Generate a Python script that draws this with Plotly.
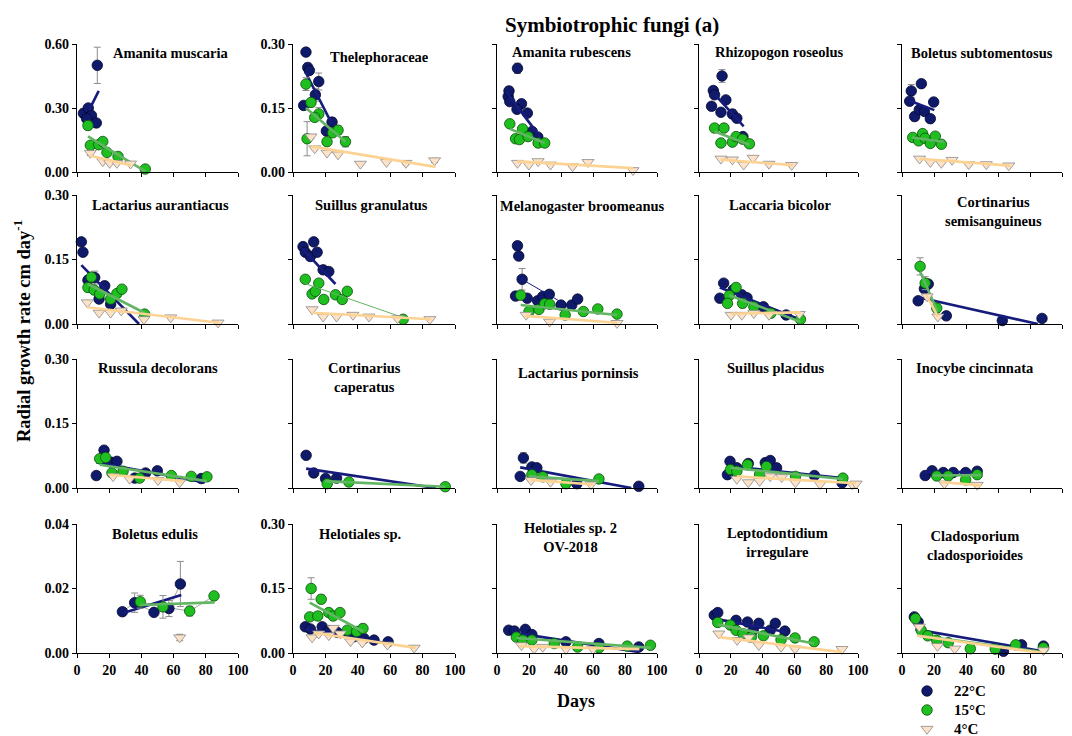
import plotly.graph_objects as go

# ------------------------------------------------------------------ data
TITLES = ["Amanita muscaria", "Thelephoraceae", "Amanita rubescens", "Rhizopogon roseolus",
          "Boletus subtomentosus", "Lactarius aurantiacus", "Suillus granulatus",
          "Melanogaster broomeanus", "Laccaria bicolor", "Cortinarius<br>semisanguineus",
          "Russula decolorans", "Cortinarius<br>caperatus", "Lactarius porninsis",
          "Suillus placidus", "Inocybe cincinnata", "Boletus edulis", "Helotiales sp.",
          "Helotiales sp. 2<br>OV-2018", "Leptodontidium<br>irregulare",
          "Cladosporium<br>cladosporioides"]
Y_MAX = [0.6, 0.3, 0.3, 0.3, 0.3,
         0.3, 0.3, 0.3, 0.3, 0.3,
         0.3, 0.3, 0.3, 0.3, 0.3,
         0.04, 0.3, 0.3, 0.3, 0.3]
X_TICKS = [0, 20, 40, 60, 80, 100]
X_TICKTEXT = ["0", "20", "40", "60", "80", "100"]
YT_P01 = ["0.00", "0.30", "0.60"]
YT_STD = ["0.00", "0.15", "0.30"]
YT_P16 = ["0.00", "0.02", "0.04"]
LEGEND_LABELS = ["22°C", "15°C", "4°C"]

# 01 Amanita muscaria
p01_d22 = [4, 7, 9, 6, 12, 12.6]; p01_r22 = [0.275, 0.30, 0.265, 0.25, 0.23, 0.50]
p01_e22 = [0.02, 0.015, 0, 0, 0, 0.085]; p01_fd22 = [7.5, 13.5]; p01_fr22 = [0.29, 0.38]
p01_d15 = [6.8, 8.3, 13.5, 16, 18.6, 25.5, 42.4]; p01_r15 = [0.218, 0.125, 0.128, 0.143, 0.092, 0.073, 0.014]
p01_e15 = [0.02, 0, 0, 0, 0, 0, 0]; p01_fd15 = [6.8, 42.4]; p01_fr15 = [0.167, 0.003]
p01_d4 = [8.3, 16, 20.3, 24.8, 33.3]; p01_r4 = [0.089, 0.05, 0.042, 0.042, 0.039]
p01_e4 = [0.012, 0, 0, 0, 0]; p01_fd4 = [8.3, 33.7]; p01_fr4 = [0.076, 0.031]

# 02 Thelephoraceae
p02_d22 = [8, 9.1, 10.1, 15.9, 13.8, 6.6, 24.1, 20.6]; p02_r22 = [0.281, 0.245, 0.238, 0.212, 0.181, 0.156, 0.117, 0.096]
p02_e22 = [0.008, 0.01, 0, 0.02, 0.015, 0, 0.01, 0]; p02_fd22 = [7.6, 24.1]; p02_fr22 = [0.235, 0.112]
p02_d15 = [8, 11.1, 15.9, 13.4, 8.7, 21, 24.5, 27.8, 32.4]; p02_r15 = [0.206, 0.163, 0.136, 0.128, 0.078, 0.071, 0.092, 0.098, 0.071]
p02_e15 = [0.015, 0, 0.015, 0, 0.04, 0, 0, 0.01, 0.012]; p02_fd15 = [8, 32.4]; p02_fr15 = [0.15, 0.071]
p02_d4 = [11.1, 13.4, 21, 27.8, 41.6, 57.7, 69.7, 87.4]; p02_r4 = [0.083, 0.055, 0.045, 0.041, 0.019, 0.023, 0.021, 0.027]
p02_e4 = [0.005, 0, 0, 0, 0, 0, 0.004, 0.005]; p02_fd4 = [11.1, 88]; p02_fr4 = [0.06, 0.012]

# 03 Amanita rubescens
p03_d22 = [7, 7.5, 8, 12.8, 15.3, 12.5, 19, 22, 25.5]; p03_r22 = [0.177, 0.19, 0.165, 0.243, 0.16, 0.147, 0.138, 0.095, 0.082]
p03_e22 = [0, 0.01, 0, 0.012, 0, 0, 0, 0, 0]; p03_fd22 = [6.3, 27.4]; p03_fr22 = [0.185, 0.08]
p03_d15 = [8, 11.6, 14, 16, 19.4, 25.7, 29.8]; p03_r15 = [0.113, 0.078, 0.076, 0.101, 0.083, 0.068, 0.068]
p03_e15 = None; p03_fd15 = [8, 29.8]; p03_fr15 = [0.101, 0.068]
p03_d4 = [12.8, 19.9, 25.7, 33.4, 47.2, 56.9, 85]; p03_r4 = [0.021, 0.017, 0.025, 0.017, 0.013, 0.023, 0.004]
p03_e4 = None; p03_fd4 = [12.8, 85]; p03_fr4 = [0.025, 0.009]

# 04 Rhizopogon roseolus
p04_d22 = [9, 9.8, 7.9, 14.5, 16.9, 13.8, 21, 23.8, 27.6]; p04_r22 = [0.191, 0.181, 0.154, 0.225, 0.169, 0.14, 0.136, 0.126, 0.083]
p04_e22 = [0.008, 0, 0, 0.015, 0, 0, 0.01, 0, 0]; p04_fd22 = [10.2, 28.1]; p04_fr22 = [0.181, 0.107]
p04_d15 = [9.8, 15.7, 13.8, 21, 23.3, 27.4, 31.7]; p04_r15 = [0.103, 0.103, 0.068, 0.07, 0.083, 0.077, 0.066]
p04_e15 = None; p04_fd15 = [9.8, 31.7]; p04_fr15 = [0.095, 0.064]
p04_d4 = [13.8, 21, 28.1, 34, 44, 58.3]; p04_r4 = [0.031, 0.029, 0.017, 0.033, 0.019, 0.016]
p04_e4 = None; p04_fd4 = [13.8, 59]; p04_fr4 = [0.029, 0.016]

# 05 Boletus subtomentosus
p05_d22 = [5.8, 12.1, 4.8, 19.8, 7.9, 10.8, 14, 17.7]; p05_r22 = [0.19, 0.207, 0.166, 0.164, 0.13, 0.146, 0.142, 0.125]
p05_e22 = [0.015, 0, 0, 0, 0.01, 0, 0, 0]; p05_fd22 = [4.8, 20.2]; p05_fr22 = [0.167, 0.145]
p05_d15 = [6.7, 10.4, 12.9, 14.4, 17.7, 20.8, 24.6]; p05_r15 = [0.081, 0.073, 0.09, 0.079, 0.067, 0.084, 0.065]
p05_e15 = None; p05_fd15 = [6.3, 26]; p05_fr15 = [0.081, 0.071]
p05_d4 = [11, 17.7, 24.6, 31.3, 41.7, 52.7, 66.7]; p05_r4 = [0.031, 0.023, 0.021, 0.028, 0.018, 0.018, 0.015]
p05_e4 = None; p05_fd4 = [11, 67.7]; p05_fr4 = [0.031, 0.015]

# 06 Lactarius aurantiacus
p06_d22 = [2.7, 3.7, 6.8, 11, 13.7, 17.2, 20.9]; p06_r22 = [0.191, 0.167, 0.102, 0.108, 0.058, 0.089, 0.046]
p06_e22 = [0, 0, 0.01, 0.015, 0, 0.01, 0]; p06_fd22 = [2.7, 38.5]; p06_fr22 = [0.137, 0.0]
p06_d15 = [6.8, 8.9, 10.6, 14.1, 20.9, 24.8, 27.9, 42]; p06_r15 = [0.085, 0.109, 0.079, 0.07, 0.058, 0.071, 0.081, 0.023]
p06_e15 = None; p06_fd15 = [6.8, 42.4]; p06_fr15 = [0.093, 0.025]
p06_d4 = [6.4, 13.7, 20.9, 27.5, 41.6, 58.2, 87.6]; p06_r4 = [0.05, 0.026, 0.026, 0.031, 0.011, 0.015, 0.003]
p06_e4 = None; p06_fd4 = [6.4, 88.2]; p06_fr4 = [0.039, 0.003]

# 07 Suillus granulatus
p07_d22 = [6.2, 7.6, 12.8, 10.7, 14.9, 18.6, 22.1]; p07_r22 = [0.18, 0.167, 0.191, 0.157, 0.167, 0.126, 0.122]
p07_e22 = None; p07_fd22 = [5.6, 26.2]; p07_fr22 = [0.176, 0.093]
p07_d15 = [7.6, 11.8, 13.8, 15.9, 19, 26.2, 30.4, 33.5, 68]; p07_r15 = [0.104, 0.07, 0.076, 0.095, 0.057, 0.068, 0.057, 0.076, 0.011]
p07_e15 = None; p07_fd15 = [7.6, 68]; p07_fr15 = [0.094, 0.015]
p07_d4 = [11.8, 18.6, 26.9, 37, 46.9, 64.5, 84.5]; p07_r4 = [0.034, 0.017, 0.017, 0.021, 0.017, 0.013, 0.011]
p07_e4 = None; p07_fd4 = [11.8, 85]; p07_fr4 = [0.026, 0.011]

# 08 Melanogaster broomeanus
p08_d22 = [12.8, 13.6, 15.7, 11.6, 18.9, 25.4, 28.6, 32.7, 40, 46.7, 50.4]
p08_r22 = [0.182, 0.158, 0.104, 0.065, 0.06, 0.054, 0.064, 0.069, 0.044, 0.044, 0.058]
p08_e22 = [0.01, 0, 0.025, 0, 0, 0, 0, 0, 0, 0, 0]; p08_fd22 = [12.8, 41.9]; p08_fr22 = [0.11, 0.047]
p08_d15 = [14.8, 20, 26.2, 29.8, 32.9, 42.6, 54, 63, 75]; p08_r15 = [0.067, 0.029, 0.034, 0.047, 0.046, 0.021, 0.029, 0.035, 0.023]
p08_e15 = None; p08_fd15 = [14.8, 75]; p08_fr15 = [0.044, 0.021]
p08_d4 = [18.2, 32.9, 75]; p08_r4 = [0.021, 0.005, 0.002]
p08_e4 = None; p08_fd4 = [17.7, 75]; p08_fr4 = [0.019, 0.003]

# 09 Laccaria bicolor
p09_d22 = [15.5, 13.1, 21.4, 26.9, 30.2, 40.5, 54.8]; p09_r22 = [0.095, 0.06, 0.079, 0.068, 0.061, 0.04, 0.021]
p09_e22 = None; p09_fd22 = [13.1, 61.9]; p09_fr22 = [0.085, 0.013]
p09_d15 = [23.3, 19, 17.9, 27.4, 34.5, 45.2, 63.8]; p09_r15 = [0.085, 0.066, 0.048, 0.048, 0.04, 0.025, 0.011]
p09_e15 = [0.008, 0, 0, 0.01, 0, 0, 0]; p09_fd15 = [19, 63.8]; p09_fr15 = [0.067, 0.005]
p09_d4 = [20.2, 26.9, 34.5, 44, 63.1]; p09_r4 = [0.021, 0.021, 0.025, 0.021, 0.023]
p09_e4 = None; p09_fd4 = [20.2, 63.8]; p09_fr4 = [0.024, 0.027]

# 10 Cortinarius semisanguineus
p10_d22 = [10.1, 14, 16.4, 27.7, 62.7, 87.5]; p10_r22 = [0.054, 0.082, 0.093, 0.019, 0.008, 0.013]
p10_e22 = None; p10_fd22 = [10.1, 85]; p10_fr22 = [0.062, 0.0]
p10_d15 = [11.3, 14.5, 21.7]; p10_r15 = [0.134, 0.095, 0.037]
p10_e15 = [0.02, 0.015, 0.01]; p10_fd15 = [11.3, 22.2]; p10_fr15 = [0.122, 0.029]
p10_d4 = [15.7, 22.4]; p10_r4 = [0.064, 0.017]
p10_e4 = None; p10_fd4 = [15.2, 22.4]; p10_fr4 = [0.068, 0.017]

# 11 Russula decolorans
p11_d22 = [12, 16.8, 21.3, 24.8, 35.8, 42.6, 49.9, 77.2]; p11_r22 = [0.029, 0.088, 0.06, 0.062, 0.023, 0.035, 0.04, 0.022]
p11_e22 = None; p11_fd22 = [12, 79.3]; p11_fr22 = [0.06, 0.013]
p11_d15 = [14.1, 17.8, 21.7, 28.6, 38.9, 58.6, 71, 80.7]; p11_r15 = [0.068, 0.071, 0.035, 0.039, 0.023, 0.029, 0.027, 0.026]
p11_e15 = None; p11_fd15 = [14.1, 80.7]; p11_fr15 = [0.054, 0.016]
p11_d4 = [22.4, 32.7, 50.3, 63.8]; p11_r4 = [0.027, 0.021, 0.018, 0.013]
p11_e4 = None; p11_fd4 = [20.3, 65.8]; p11_fr4 = [0.031, 0.016]

# 12 Cortinarius caperatus
p12_d22 = [8.1, 12.8, 20.1, 26.9]; p12_r22 = [0.076, 0.035, 0.022, 0.023]
p12_e22 = None; p12_fd22 = [8.1, 88.2]; p12_fr22 = [0.045, 0.0]
p12_d15 = [21.1, 34.5, 94]; p12_r15 = [0.01, 0.014, 0.003]
p12_e15 = None; p12_fd15 = [20, 94]; p12_fr15 = [0.016, 0.003]

# 13 Lactarius porninsis
p13_d22 = [16.5, 14.5, 21.8, 24.9, 49.9, 88.6]; p13_r22 = [0.07, 0.027, 0.049, 0.047, 0.01, 0.004]
p13_e22 = [0.012, 0, 0, 0, 0, 0]; p13_fd22 = [14.5, 84]; p13_fr22 = [0.048, 0.0]
p13_d15 = [21.8, 28.6, 43.1, 63.7]; p13_r15 = [0.031, 0.026, 0.01, 0.021]
p13_e15 = None; p13_fd15 = [20, 63.7]; p13_fr15 = [0.027, 0.016]
p13_d4 = [21.3, 33.4, 58.8]; p13_r4 = [0.018, 0.014, 0.008]
p13_e4 = None; p13_fd4 = [21.3, 60]; p13_fr4 = [0.019, 0.008]

# 14 Suillus placidus
p14_d22 = [19.5, 17.9, 23.8, 31, 41.7, 44.8, 48.8, 72.6, 90]; p14_r22 = [0.062, 0.031, 0.047, 0.057, 0.059, 0.064, 0.047, 0.029, 0.012]
p14_e22 = None; p14_fd22 = [19.5, 90]; p14_fr22 = [0.051, 0.023]
p14_d15 = [19.8, 23.8, 30.5, 38.1, 42.4, 60.7, 90.5]; p14_r15 = [0.043, 0.039, 0.054, 0.031, 0.05, 0.027, 0.023]
p14_e15 = None; p14_fd15 = [19.8, 90.5]; p14_fr15 = [0.047, 0.021]
p14_d4 = [23.8, 31, 38.1, 44.8, 52, 60.7, 76.2, 96.4, 98.8]; p14_r4 = [0.021, 0.013, 0.016, 0.027, 0.025, 0.013, 0.009, 0.008, 0.01]
p14_e4 = None; p14_fd4 = [23.8, 98.8]; p14_fr4 = [0.027, 0.011]

# 15 Inocybe cincinnata
p15_d22 = [14.5, 18.8, 25.8, 32, 39.8, 47]; p15_r22 = [0.029, 0.04, 0.036, 0.036, 0.036, 0.039]
p15_e22 = None; p15_fd22 = [14.5, 49.4]; p15_fr22 = [0.037, 0.037]
p15_d15 = [21.7, 28.9, 39.8, 47]; p15_r15 = [0.028, 0.028, 0.019, 0.031]
p15_e15 = None; p15_fd15 = [19.3, 49.4]; p15_fr15 = [0.029, 0.030]
p15_d4 = [26.5, 47]; p15_r4 = [0.01, 0.007]
p15_e4 = None; p15_fd4 = [24, 49.4]; p15_fr4 = [0.014, 0.006]

# 16 Boletus edulis
p16_d22 = [28.2, 35.8, 47.8, 57.1, 64.2]; p16_r22 = [0.0128, 0.0156, 0.0126, 0.0138, 0.0214]
p16_e22 = [0.001, 0.003, 0, 0.0025, 0.007]; p16_fd22 = [28.2, 64.8]; p16_fr22 = [0.0123, 0.018]
p16_d15 = [39.3, 53.4, 70, 85.1]; p16_r15 = [0.0159, 0.0143, 0.013, 0.0177]
p16_e15 = [0.002, 0.0035, 0.0015, 0]; p16_fd15 = [39.3, 85.5]; p16_fr15 = [0.0149, 0.0157]
p16_d4 = [63.8]; p16_r4 = [0.0048]
p16_e4 = [0.001]; p16_fd4 = None; p16_fr4 = None

# 17 Helotiales sp.
p17_d22 = [7.6, 10.7, 18, 22.1, 27.3, 37.6, 43.8, 50, 58.7]; p17_r22 = [0.061, 0.056, 0.061, 0.052, 0.048, 0.038, 0.034, 0.03, 0.026]
p17_e22 = None; p17_fd22 = [7.6, 58.7]; p17_fr22 = [0.056, 0.022]
p17_d15 = [11.2, 10.3, 15.3, 17.4, 22.1, 24.8, 29, 33.5, 39.3, 43.2]
p17_r15 = [0.15, 0.084, 0.086, 0.125, 0.094, 0.086, 0.094, 0.053, 0.05, 0.057]
p17_e15 = [0.025, 0, 0, 0.01, 0, 0, 0, 0, 0, 0.01]; p17_fd15 = [10.3, 43.2]; p17_fr15 = [0.117, 0.05]
p17_d4 = [11.8, 15.9, 22.1, 24.8, 29.3, 35.5, 42.8, 58.3, 74.8]; p17_r4 = [0.036, 0.045, 0.041, 0.058, 0.045, 0.027, 0.024, 0.019, 0.012]
p17_e4 = None; p17_fd4 = [12.8, 75.8]; p17_fr4 = [0.047, 0.012]

# 18 Helotiales sp. 2 OV-2018
p18_d22 = [7.3, 10.9, 17.7, 21.8, 43.1, 63.7, 88.6]; p18_r22 = [0.053, 0.051, 0.055, 0.043, 0.026, 0.022, 0.014]
p18_e22 = None; p18_fd22 = [9.2, 89.1]; p18_fr22 = [0.048, 0.002]
p18_d15 = [12.1, 16, 21.8, 35.8, 50.4, 63.7, 81.4, 95.9]; p18_r15 = [0.037, 0.03, 0.03, 0.022, 0.014, 0.012, 0.016, 0.018]
p18_e15 = None; p18_fd15 = [12.1, 96.4]; p18_fr15 = [0.035, 0.012]
p18_d4 = [15.3, 23.2, 28.6, 43.1, 60]; p18_r4 = [0.018, 0.01, 0.014, 0.009, 0.009]
p18_e4 = None; p18_fd4 = [14, 89]; p18_fr4 = [0.016, 0.009]

# 19 Leptodontidium irregulare
p19_d22 = [9.6, 11.8, 23.3, 30.5, 34.1, 37.6, 44.8, 48, 54]; p19_r22 = [0.088, 0.094, 0.076, 0.072, 0.053, 0.069, 0.053, 0.069, 0.051]
p19_e22 = None; p19_fd22 = [9.6, 54.4]; p19_fr22 = [0.08, 0.049]
p19_d15 = [11.8, 19.7, 23.3, 27.6, 32.9, 40.5, 51.6, 60.4, 72.4]; p19_r15 = [0.071, 0.065, 0.053, 0.045, 0.037, 0.04, 0.031, 0.035, 0.026]
p19_e15 = None; p19_fd15 = [11.8, 72.4]; p19_fr15 = [0.066, 0.022]
p19_d4 = [12.5, 24, 31.2, 37.6, 51.6, 60.4, 89.9]; p19_r4 = [0.045, 0.03, 0.036, 0.018, 0.014, 0.01, 0.009]
p19_e4 = None; p19_fd4 = [12.5, 89.9]; p19_fr4 = [0.037, 0.002]

# 20 Cladosporium cladosporioides
p20_d22 = [7.7, 10.1, 63.4, 74.7, 88.4]; p20_r22 = [0.084, 0.072, 0.004, 0.019, 0.016]
p20_e22 = None; p20_fd22 = [8.4, 87.9]; p20_fr22 = [0.055, 0.004]
p20_d15 = [8.4, 12, 16.1, 21.7, 28.9, 42.7, 58.3, 71.1, 88.4]; p20_r15 = [0.08, 0.053, 0.04, 0.03, 0.024, 0.01, 0.009, 0.019, 0.012]
p20_e15 = None; p20_fd15 = [9.6, 87.9]; p20_fr15 = [0.041, 0.002]
p20_d4 = [10.8, 22.2, 33, 88.4]; p20_r4 = [0.061, 0.016, 0.01, 0.006]
p20_e4 = None; p20_fd4 = [9.6, 87.9]; p20_fr4 = [0.04, 0.0]

# ------------------------------------------------------------------ assemble
G = globals()
TEMPS = ["22", "15", "4"]
PANELS = []
for k in range(1, 21):
    p = {}
    for t in TEMPS:
        key = f"p{k:02d}_d{t}"
        if key in G:
            p[t] = (G[key], G[f"p{k:02d}_r{t}"], G[f"p{k:02d}_e{t}"],
                    G[f"p{k:02d}_fd{t}"], G[f"p{k:02d}_fr{t}"])
    PANELS.append(p)

# ------------------------------------------------------------------ style / layout
W, H = 1072, 736
COL_PX = [(77, 238), (293, 455), (497, 657), (699, 858), (902, 1062)]
ROW_PX = [(44, 172), (195, 324), (359, 488), (524, 653)]
TITLE_PX = [(171, 53), (379, 57), (571, 52), (779, 52), (982, 53),
            (160, 205), (371, 205), (582, 206), (780, 205), (993, 211),
            (158, 368), (364, 377), (578, 373), (775, 368), (975, 368),
            (155, 534), (360, 534), (570, 537), (777, 542), (975, 545)]
YLABELS = {0: YT_P01, 1: YT_STD, 5: YT_STD, 10: YT_STD, 15: YT_P16, 16: YT_STD}
THIN = {(7, "22"), (6, "15")}
CONNECT = {15}

SERIF = "Liberation Serif"
MK = {
    "22": dict(symbol="circle", size=10.5, color="#0f1a6b", line=dict(color="#04072e", width=0.8)),
    "15": dict(symbol="circle", size=10.5, color="#1fbf1f", line=dict(color="#0b4d0b", width=0.8)),
    "4": dict(symbol="triangle-down", size=10.5, color="#fde2c8", line=dict(color="#8a8a8a", width=0.8)),
}
LC = {"22": "#161c7c", "15": "#62b562", "4": "#fdd394"}
TICKFONT = dict(family=SERIF, size=14, color="black", weight="bold")

fig = go.Figure()
layout = dict(width=W, height=H, margin=dict(l=0, r=0, t=0, b=0),
              paper_bgcolor="white", plot_bgcolor="rgba(0,0,0,0)", showlegend=False)
annotations = []

for k, panel in enumerate(PANELS):
    sfx = "" if k == 0 else str(k + 1)
    xa, ya = "x" + sfx, "y" + sfx
    r, c = divmod(k, 5)
    x0, x1 = COL_PX[c]
    y0, y1 = ROW_PX[r]
    ymax = Y_MAX[k]
    yl = YLABELS.get(k)
    layout["xaxis" + sfx] = dict(
        domain=[x0 / W, x1 / W], anchor=ya, range=[0, 100], tickvals=X_TICKS,
        ticktext=X_TICKTEXT, showticklabels=(r == 3), ticks="outside", ticklen=4,
        tickwidth=1.2, tickcolor="black", showline=True, linecolor="black", linewidth=1.4,
        showgrid=False, zeroline=False, automargin=False, fixedrange=True, tickfont=TICKFONT)
    layout["yaxis" + sfx] = dict(
        domain=[1 - y1 / H, 1 - y0 / H], anchor=xa, range=[0, ymax],
        tickvals=[0, ymax / 2, ymax], ticktext=yl if yl else ["", "", ""],
        showticklabels=yl is not None, ticks="outside", ticklen=4, tickwidth=1.2,
        tickcolor="black", showline=True, linecolor="black", linewidth=1.4,
        showgrid=False, zeroline=False, automargin=False, fixedrange=True, tickfont=TICKFONT)

    if k in CONNECT:
        for t in ["22", "15"]:
            d, rr = panel[t][0], panel[t][1]
            pts = sorted(zip(d, rr))
            fig.add_trace(go.Scatter(x=[p[0] for p in pts], y=[p[1] for p in pts], mode="lines",
                                     line=dict(color="#8c8c8c", width=0.8), xaxis=xa, yaxis=ya,
                                     hoverinfo="skip", cliponaxis=False))
    for t in TEMPS:
        if t not in panel:
            continue
        d, rr, e, fd, fr = panel[t]
        err = dict(type="data", array=e, visible=True, color="#8c8c8c", thickness=1, width=3.5) if e else None
        fig.add_trace(go.Scatter(x=d, y=rr, mode="markers", marker=MK[t], error_y=err,
                                 xaxis=xa, yaxis=ya, cliponaxis=False, name=t))
        if fd:
            w = 1.0 if (k, t) in THIN else 2.6
            fig.add_trace(go.Scatter(x=fd, y=fr, mode="lines", line=dict(color=LC[t], width=w),
                                     xaxis=xa, yaxis=ya, cliponaxis=False, hoverinfo="skip"))
    tx, ty = TITLE_PX[k]
    annotations.append(dict(text=TITLES[k], x=tx / W, y=1 - ty / H, xref="paper", yref="paper",
                            xanchor="center", yanchor="middle", showarrow=False,
                            font=dict(family=SERIF, size=14.5, color="black", weight="bold")))

# overlay axis for the legend symbols (pixel coordinates)
layout["xaxis21"] = dict(domain=[0, 1], range=[0, W], visible=False, anchor="y21", fixedrange=True)
layout["yaxis21"] = dict(domain=[0, 1], range=[H, 0], visible=False, anchor="x21", fixedrange=True)
LEG_Y = [691, 710, 729]
for t, ly, lab in zip(TEMPS, LEG_Y, LEGEND_LABELS):
    fig.add_trace(go.Scatter(x=[927], y=[ly], mode="markers", marker=MK[t], xaxis="x21",
                             yaxis="y21", cliponaxis=False, hoverinfo="skip"))
    annotations.append(dict(text=lab, x=952 / W, y=1 - ly / H, xref="paper", yref="paper",
                            xanchor="left", yanchor="middle", showarrow=False,
                            font=dict(family=SERIF, size=15, color="black", weight="bold")))

annotations.append(dict(text="Symbiotrophic fungi (a)", x=612 / W, y=1 - 25 / H, xref="paper",
                        yref="paper", xanchor="center", yanchor="middle", showarrow=False,
                        font=dict(family=SERIF, size=21, color="black", weight="bold")))
annotations.append(dict(text="Radial growth rate cm day<sup>-1</sup>", x=22 / W, y=1 - 331 / H,
                        xref="paper", yref="paper", xanchor="center", yanchor="middle",
                        textangle=-90, showarrow=False,
                        font=dict(family=SERIF, size=18.5, color="black", weight="bold")))
annotations.append(dict(text="Days", x=576 / W, y=1 - 701 / H, xref="paper", yref="paper",
                        xanchor="center", yanchor="middle", showarrow=False,
                        font=dict(family=SERIF, size=18, color="black", weight="bold")))
layout["annotations"] = annotations
fig.update_layout(**layout)
fig.write_html("out.html")
